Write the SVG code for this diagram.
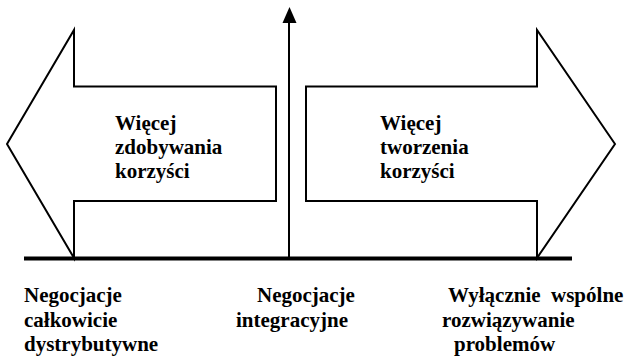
<svg xmlns="http://www.w3.org/2000/svg" width="628" height="358" viewBox="0 0 628 358">
<defs>
<style>
.shape{fill:#fff;stroke:#000;stroke-width:2;stroke-linejoin:miter}
</style>
</defs>
<rect width="628" height="358" fill="#fff"/>
<g font-family="Liberation Serif, Times New Roman, Times, serif" font-weight="bold" font-size="21" fill="#000">
<g id="arrow-left">
<path class="shape" d="M7,144 L74,30 L74,86.5 L276,86.5 L276,201 L74,201 L74,258 Z"/>
<text x="115" y="130">Więcej</text>
<text x="115" y="154">zdobywania</text>
<text x="115" y="178">korzyści</text>
</g>
<g id="arrow-right">
<path class="shape" d="M615,144 L537,30 L537,86.5 L306,86.5 L306,201 L537,201 L537,258 Z"/>
<text x="380" y="130">Więcej</text>
<text x="380" y="154">tworzenia</text>
<text x="380" y="178">korzyści</text>
</g>
<g id="connectors">
<line x1="289" y1="258" x2="289" y2="20" stroke="#000" stroke-width="2"/>
<polygon points="289.5,7 282.5,23 296.5,23" fill="#000"/>
<line x1="24" y1="258.5" x2="572" y2="258.5" stroke="#000" stroke-width="4"/>
</g>
<g id="label-left">
<text x="24" y="302">Negocjacje</text>
<text x="24" y="326.5">całkowicie</text>
<text x="24" y="351">dystrybutywne</text>
</g>
<g id="label-middle">
<text x="257" y="302">Negocjacje</text>
<text x="236" y="326.5">integracyjne</text>
</g>
<g id="label-right">
<text x="448" y="302" xml:space="preserve">Wyłącznie  wspólne</text>
<text x="442" y="326.5">rozwiązywanie</text>
<text x="454" y="351">problemów</text>
</g>
</g>
</svg>
